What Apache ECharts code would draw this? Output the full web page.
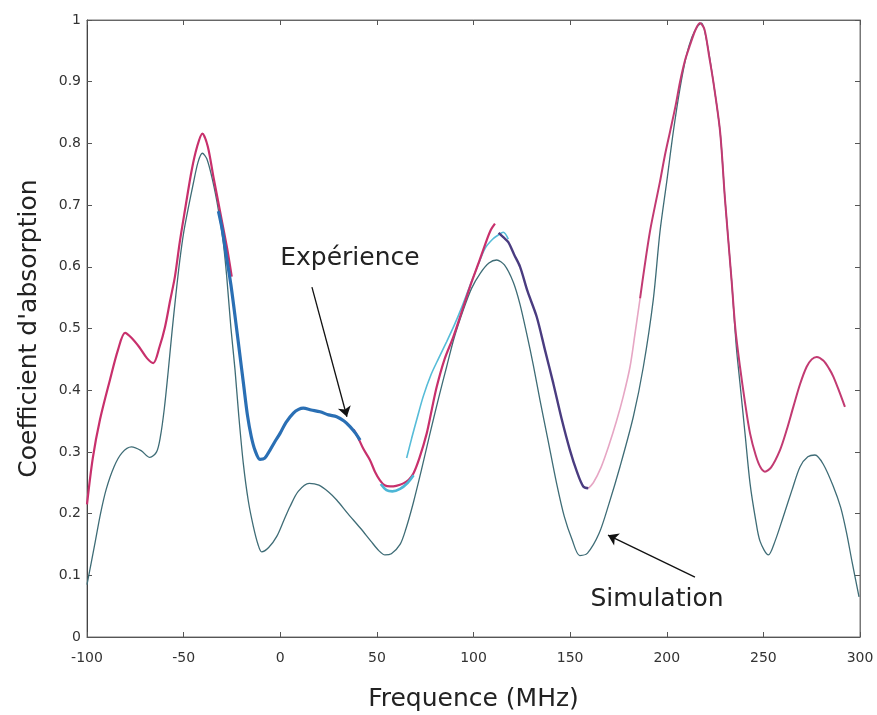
<!DOCTYPE html>
<html>
<head>
<meta charset="utf-8">
<script src="https://cdn.jsdelivr.net/npm/echarts@6/dist/echarts.min.js"></script>
<style>
html,body{margin:0;padding:0;background:#fff;}
#chart{width:877px;height:715px;}
</style>
</head>
<body>
<div id="chart"></div>
<script>
// ---------- data ----------
const xTicks = [-100, -50, 0, 50, 100, 150, 200, 250, 300];
const yTicks = [0, 0.1, 0.2, 0.3, 0.4, 0.5, 0.6, 0.7, 0.8, 0.9, 1];

const simulation = [
  [-100,0.085],[-96,0.15],[-93,0.20],[-90,0.24],[-86,0.276],[-82,0.298],[-77,0.308],[-72,0.302],
  [-67.5,0.291],[-64,0.30],[-62,0.325],[-60,0.37],[-58,0.43],[-56,0.495],[-54,0.555],[-52,0.61],
  [-50,0.655],[-47.6,0.695],[-45,0.735],[-42.5,0.77],[-40.3,0.784],[-38,0.775],[-35,0.74],
  [-32,0.692],[-29.5,0.64],[-27.7,0.584],[-25.5,0.50],[-23.4,0.433],[-21.5,0.36],[-19.1,0.281],[-16.5,0.22],
  [-13.9,0.179],[-11.5,0.15],[-9.6,0.138],[-6,0.145],[-1.8,0.163],[2,0.19],[5,0.211],[9.3,0.236],
  [15,0.249],[20,0.246],[25,0.235],[29.2,0.222],[35,0.20],[41.3,0.177],[47,0.155],[51,0.14],
  [54.2,0.133],[57.5,0.135],[62,0.15],[65,0.175],[68.9,0.218],[73,0.27],[77.5,0.33],[82,0.388],
  [86.1,0.438],[90,0.485],[94.7,0.53],[99,0.565],[103.4,0.589],[108,0.606],[112,0.611],[116,0.603],
  [120.6,0.575],[124,0.54],[127.5,0.492],[131,0.44],[134.4,0.384],[138.5,0.32],[143,0.249],[147,0.195],
  [151,0.158],[155,0.132],[159,0.136],[165,0.168],[170,0.215],[175.8,0.276],[182.7,0.357],[187.9,0.438],
  [193,0.546],[196.5,0.657],[200,0.738],[203.4,0.819],[206.9,0.89],[210,0.94],[213,0.972],[216,0.99],
  [218,0.995],[221,0.96],[224.1,0.9],[227.6,0.819],[230.1,0.711],[233.6,0.576],[236,0.47],[237.9,0.411],
  [240.5,0.33],[243.1,0.249],[246,0.19],[248.3,0.155],[252.6,0.133],[256,0.155],[260.3,0.195],[265,0.24],
  [269,0.276],[273,0.292],[276.7,0.295],[281,0.28],[286.2,0.244],[290,0.21],[293.1,0.168],[296,0.12],[299.5,0.065]
];

const expMagentaA = [
  [-100,0.215],[-97,0.29],[-93.3,0.352],[-88.1,0.417],[-84,0.465],[-80.3,0.493],[-77,0.485],[-73,0.47],
  [-69,0.452],[-65.7,0.444],[-62.5,0.47],[-59.6,0.503],[-57,0.545],[-54.5,0.584],[-52,0.64],[-49.3,0.692],
  [-45.8,0.757],[-43,0.795],[-40.3,0.816],[-37.5,0.795],[-34.6,0.746],[-30.3,0.676],[-27.5,0.63],[-25.1,0.584]
];

const expBlue = [
  [-32,0.69],[-30,0.66],[-28,0.62],[-25.5,0.57],[-23,0.51],[-21,0.46],[-19,0.41],[-17,0.36],
  [-15,0.325],[-13,0.302],[-10.5,0.288],[-8,0.29],[-5.3,0.303],[-2.5,0.318],[-0.1,0.33],[3,0.348],
  [6.8,0.363],[9.5,0.369],[11.9,0.371],[16,0.368],[20.6,0.365],[25,0.36],[29.2,0.357],[33,0.35],
  [36.1,0.341],[39,0.33],[41.3,0.319]
];

const expMagentaB = [
  [38,0.336],[40,0.325],[43,0.305],[46.4,0.287],[49,0.268],[51.6,0.254],[54,0.246],[56.8,0.244],
  [60,0.245],[63.7,0.249],[66.5,0.255],[68.9,0.265],[72,0.29],[75.8,0.33],[78.5,0.37],[81,0.406],
  [85,0.45],[89.6,0.487],[94,0.528],[98.2,0.568],[102.5,0.605],[106.8,0.643],[109,0.66],[111.1,0.67]
];

const expCyanLow = [
  [52,0.248],[55,0.238],[58,0.236],[62,0.24],[66,0.25],[69,0.262]
];

const expCyanHigh = [
  [65.4,0.29],[68,0.322],[70.6,0.352],[74,0.39],[78,0.425],[82,0.452],[86,0.478],[90,0.505],
  [94,0.535],[98,0.568],[102,0.6],[106,0.63],[110,0.645],[113,0.652],[115.4,0.656],[118,0.645]
];

const expPurple = [
  [113,0.655],[115.4,0.648],[118,0.64],[121,0.62],[124.1,0.6],[128,0.56],[132.7,0.519],[137,0.465],
  [141.3,0.411],[145.5,0.355],[149.9,0.303],[153.5,0.268],[156.8,0.244],[159.4,0.241]
];

const expPinkFaint = [
  [159.4,0.241],[162,0.25],[166,0.275],[170,0.31],[174,0.35],[177.5,0.39],[181,0.438],[183.5,0.49],[186.2,0.549]
];

const expMagentaC = [
  [186.2,0.549],[188.5,0.6],[191.3,0.657],[194,0.7],[196.5,0.738],[199,0.78],[201.7,0.819],[204.5,0.86],
  [206.9,0.9],[209.5,0.935],[212,0.959],[215,0.985],[217.2,0.995],[219.5,0.985],[222,0.94],[224.1,0.9],
  [227.6,0.819],[230.1,0.711],[233.6,0.576],[235.5,0.5],[237.9,0.438],[240.5,0.38],[243.1,0.33],[246,0.295],
  [248.5,0.275],[250.8,0.268],[254,0.275],[258.6,0.303],[262,0.335],[265.5,0.373],[269,0.41],[272.4,0.438],
  [275,0.45],[277.6,0.454],[281,0.448],[284,0.435],[286.2,0.422],[289,0.4],[292.2,0.373]
];

// annotations (data coordinates)
const labelExperience = {text: 'Expérience', at: [0, 0.613]};
const arrowExperience = [[16.4, 0.567], [34.5, 0.357]];
const labelSimulation = {text: 'Simulation', at: [160.5, 0.06]};
const arrowSimulation = [[214.6, 0.097], [169.6, 0.165]];

// ---------- chart ----------
const FONT = '"DejaVu Sans", "Liberation Sans", Arial, sans-serif';
const chart = echarts.init(document.getElementById('chart'), null, {renderer: 'canvas'});

function line(data, color, width, z, opacity) {
  return {
    type: 'line', data: data, showSymbol: false, symbol: 'none', smooth: 0.3,
    lineStyle: {color: color, width: width, opacity: opacity == null ? 1 : opacity},
    z: z, silent: true
  };
}

const simSeries = line(simulation, '#3e6c76', 1.3, 2);
simSeries.markLine = {
  silent: true, animation: false,
  symbol: ['none', 'arrow'], symbolSize: 10,
  lineStyle: {color: '#111', width: 1.3, type: 'solid'},
  itemStyle: {color: '#111'},
  label: {show: false},
  data: [
    [{coord: arrowExperience[0]}, {coord: arrowExperience[1]}],
    [{coord: arrowSimulation[0]}, {coord: arrowSimulation[1]}]
  ]
};

const option = {
  animation: false,
  backgroundColor: '#ffffff',
  grid: {left: 87, right: 17, top: 20, bottom: 78, show: true, borderColor: '#777', borderWidth: 1,
    containLabel: false, outerBoundsMode: 'none'},
  xAxis: [{
    type: 'value', min: xTicks[0], max: xTicks[xTicks.length - 1], interval: 50,
    name: 'Frequence (MHz)', nameLocation: 'middle', nameGap: 50,
    nameTextStyle: {fontSize: 25, color: '#222', fontFamily: FONT},
    axisLine: {show: true, onZero: false, lineStyle: {color: '#555', width: 1}},
    axisTick: {show: true, inside: true, length: 5, lineStyle: {color: '#555'}},
    axisLabel: {fontSize: 14, color: '#333', margin: 14, fontFamily: FONT},
    splitLine: {show: false}
  }, {
    type: 'value', position: 'top', min: xTicks[0], max: xTicks[xTicks.length - 1], interval: 50,
    axisLine: {show: true, onZero: false, lineStyle: {color: '#666'}},
    axisTick: {show: true, inside: true, length: 5, lineStyle: {color: '#555'}},
    axisLabel: {show: false}, splitLine: {show: false}
  }],
  yAxis: [{
    type: 'value', min: yTicks[0], max: yTicks[yTicks.length - 1], interval: 0.1,
    name: "Coefficient d'absorption", nameLocation: 'middle', nameGap: 45,
    nameTextStyle: {fontSize: 25, color: '#222', fontFamily: FONT},
    axisLine: {show: true, onZero: false, lineStyle: {color: '#444', width: 1}},
    axisTick: {show: true, inside: true, length: 5, lineStyle: {color: '#555'}},
    axisLabel: {fontSize: 14, color: '#333', margin: 6, fontFamily: FONT,
      formatter: v => (Math.round(v * 10) / 10).toString()},
    splitLine: {show: false}
  }, {
    type: 'value', position: 'right', min: yTicks[0], max: yTicks[yTicks.length - 1], interval: 0.1,
    axisLine: {show: true, onZero: false, lineStyle: {color: '#777'}},
    axisTick: {show: true, inside: true, length: 5, lineStyle: {color: '#555'}},
    axisLabel: {show: false}, splitLine: {show: false}
  }],
  series: [
    simSeries,
    line(expPinkFaint, '#e6a6c4', 1.6, 3),
    line(expCyanHigh, '#56bcd8', 1.6, 3),
    line(expMagentaA, '#c8306c', 2.2, 4),
    line(expMagentaB, '#c8306c', 2.2, 4),
    line(expMagentaC, '#c23a72', 2.0, 4),
    line(expCyanLow, '#4cb6d6', 2.6, 5),
    line(expBlue, '#2a6fb4', 3.2, 6),
    line(expPurple, '#4a3c80', 2.4, 6)
  ]
};
chart.setOption(option);

function addLabels() {
  const p1 = chart.convertToPixel({xAxisIndex: 0, yAxisIndex: 0}, labelExperience.at);
  const p2 = chart.convertToPixel({xAxisIndex: 0, yAxisIndex: 0}, labelSimulation.at);
  chart.setOption({
    graphic: [
      {type: 'text', x: p1[0], y: p1[1], style: {text: labelExperience.text, fontSize: 25,
        fontFamily: FONT, fill: '#222', textVerticalAlign: 'middle', verticalAlign: 'middle'}},
      {type: 'text', x: p2[0], y: p2[1], style: {text: labelSimulation.text, fontSize: 25,
        fontFamily: FONT, fill: '#222', textVerticalAlign: 'middle', verticalAlign: 'middle'}}
    ]
  });
}
addLabels();
</script>
</body>
</html>
